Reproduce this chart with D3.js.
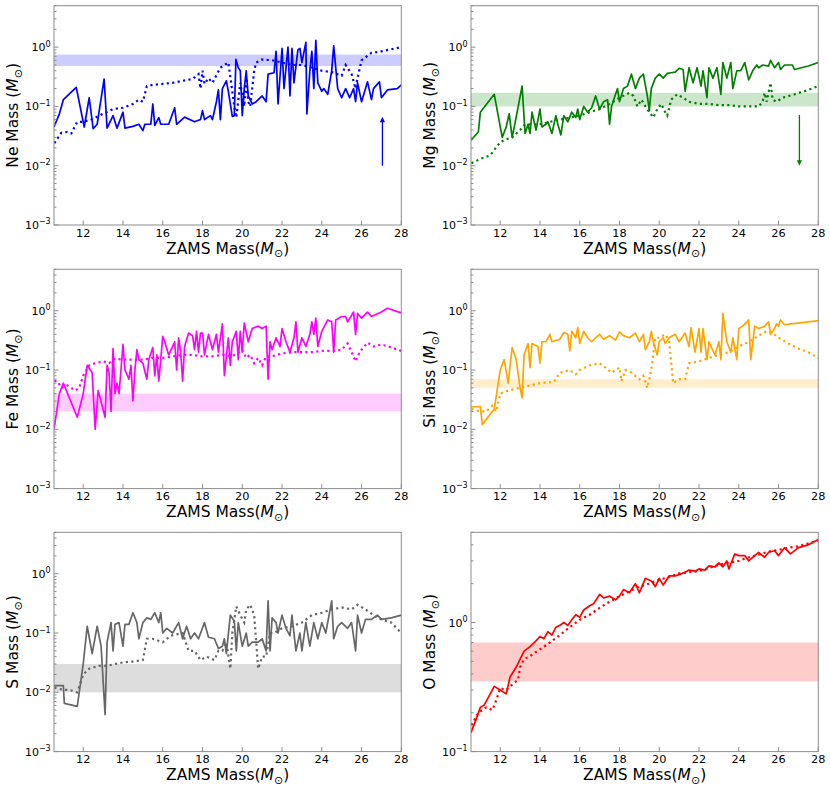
<!DOCTYPE html>
<html>
<head>
<meta charset="utf-8">
<script src="https://cdn.jsdelivr.net/npm/d3@7"></script>
<style>
  body { margin: 0; background: #fff; }
  svg { display: block; font-family: "DejaVu Sans", sans-serif; }
</style>
</head>
<body>
<script>
// element names, one panel each (row by row)
var elements = ["Ne", "Mg", "Fe", "Si", "S", "O"];
var lineColors = ["#0000ff", "#008000", "#ff00ff", "#ffa500", "#666666", "#ff0000"];

var xTicks = [12, 14, 16, 18, 20, 22, 24, 26, 28];

// observed ranges (shaded bands), low / high in Msun
var bandLow  = [0.48, 0.10, 0.020, 0.050, 0.010, 0.35];
var bandHigh = [0.75, 0.17, 0.040, 0.070, 0.030, 0.70];

// y ranges
var yMin = [1e-3, 1e-3, 1e-3, 1e-3, 1e-3, 0.1];
var yMax = [5, 5, 5, 5, 5, 5];

// [ZAMS mass, yield]
var neSolid = [[10.53,0.045],[10.8,0.075],[11.0,0.13],[11.65,0.21],[12.05,0.045],[12.3,0.14],[12.5,0.042],[12.7,0.05],[13.05,0.29],[13.2,0.043],[13.5,0.07],[13.7,0.043],[14.0,0.08],[14.1,0.043],[14.5,0.046],[14.8,0.05],[15.0,0.039],[15.1,0.05],[15.4,0.05],[15.5,0.11],[15.6,0.048],[15.8,0.065],[15.9,0.05],[16.3,0.05],[16.6,0.095],[16.7,0.05],[17.1,0.066],[17.6,0.055],[17.9,0.06],[18.0,0.085],[18.1,0.06],[18.4,0.07],[18.5,0.06],[18.7,0.12],[18.8,0.19],[18.9,0.06],[19.0,0.2],[19.2,0.27],[19.3,0.18],[19.5,0.068],[19.6,0.07],[19.68,0.62],[19.8,0.45],[19.9,0.4],[20.0,0.07],[20.1,0.2],[20.2,0.4],[20.3,0.15],[20.5,0.11],[20.7,0.12],[21.0,0.15],[21.2,0.12],[21.3,0.35],[21.6,0.37],[21.7,0.85],[21.8,0.11],[22.0,0.95],[22.1,0.2],[22.3,1.0],[22.4,0.15],[22.5,0.95],[22.6,0.25],[22.8,0.9],[22.9,0.95],[23.0,0.55],[23.2,1.2],[23.25,0.075],[23.4,0.4],[23.5,0.85],[23.6,0.2],[23.7,1.3],[23.8,0.25],[24.0,0.18],[24.1,0.2],[24.3,0.16],[24.5,0.4],[24.6,1.05],[24.8,0.2],[25.0,0.14],[25.2,0.2],[25.4,0.14],[25.6,0.2],[25.7,0.12],[25.8,0.25],[26.0,0.12],[26.2,0.2],[26.3,0.26],[26.5,0.13],[26.6,0.2],[26.9,0.26],[27.0,0.14],[27.3,0.19],[27.8,0.2],[28.0,0.23]];
var neDotted = [[10.55,0.024],[10.9,0.036],[11.2,0.037],[11.4,0.035],[11.7,0.055],[12.0,0.055],[12.4,0.06],[13.0,0.075],[13.5,0.09],[14.0,0.095],[14.5,0.11],[14.8,0.13],[15.0,0.12],[15.2,0.22],[15.5,0.23],[16.0,0.24],[16.5,0.25],[17.0,0.27],[17.5,0.29],[17.8,0.35],[17.9,0.2],[18.0,0.4],[18.1,0.24],[18.3,0.3],[18.5,0.25],[18.9,0.45],[19.3,0.55],[19.6,0.1],[19.7,0.065],[19.9,0.25],[20.1,0.1],[20.2,0.3],[20.3,0.12],[20.4,0.1],[20.6,0.4],[20.7,0.55],[21.0,0.62],[21.5,0.6],[22.0,0.55],[22.5,0.5],[23.0,0.5],[23.5,0.45],[24.0,0.4],[24.5,0.38],[25.0,0.33],[25.2,0.5],[25.5,0.35],[25.7,0.2],[25.8,0.3],[26.0,0.6],[26.5,0.8],[27.0,0.85],[27.5,0.92],[28.0,1.0]];

var mgSolid = [[10.53,0.027],[10.9,0.037],[11.0,0.08],[11.7,0.16],[12.1,0.03],[12.3,0.045],[12.45,0.075],[12.6,0.03],[12.8,0.065],[13.1,0.22],[13.25,0.035],[13.4,0.05],[13.5,0.035],[13.6,0.08],[13.8,0.04],[14.0,0.09],[14.1,0.045],[14.3,0.05],[14.4,0.055],[14.6,0.035],[14.8,0.07],[14.9,0.05],[15.05,0.033],[15.2,0.07],[15.4,0.055],[15.6,0.08],[15.8,0.065],[15.9,0.09],[16.0,0.06],[16.2,0.1],[16.4,0.08],[16.6,0.095],[16.8,0.15],[17.0,0.09],[17.2,0.12],[17.4,0.13],[17.5,0.05],[17.6,0.1],[17.8,0.16],[17.9,0.2],[18.0,0.12],[18.2,0.2],[18.4,0.22],[18.6,0.35],[18.8,0.2],[19.0,0.3],[19.2,0.35],[19.4,0.15],[19.5,0.085],[19.6,0.2],[19.8,0.3],[20.0,0.35],[20.2,0.3],[20.4,0.36],[20.6,0.37],[20.8,0.38],[21.0,0.44],[21.2,0.42],[21.3,0.18],[21.5,0.45],[21.7,0.25],[21.9,0.45],[22.1,0.22],[22.2,0.4],[22.4,0.14],[22.5,0.45],[22.7,0.3],[22.9,0.45],[23.1,0.16],[23.2,0.55],[23.4,0.3],[23.6,0.55],[23.7,0.2],[23.9,0.4],[24.1,0.4],[24.3,0.55],[24.5,0.28],[24.7,0.4],[24.9,0.5],[25.0,0.45],[25.2,0.5],[25.5,0.48],[25.6,0.6],[25.8,0.45],[26.0,0.55],[26.1,0.42],[26.3,0.5],[26.7,0.5],[26.8,0.42],[27.5,0.48],[28.0,0.55]];
var mgDotted = [[10.55,0.011],[11.0,0.013],[11.5,0.015],[12.0,0.025],[12.3,0.028],[12.6,0.03],[13.0,0.04],[13.2,0.048],[13.5,0.05],[14.0,0.05],[14.5,0.055],[15.0,0.06],[15.5,0.065],[16.0,0.07],[16.5,0.08],[17.0,0.09],[17.5,0.11],[18.0,0.14],[18.5,0.17],[18.7,0.15],[18.9,0.1],[19.1,0.13],[19.3,0.1],[19.5,0.08],[19.7,0.065],[19.9,0.09],[20.1,0.11],[20.3,0.08],[20.4,0.07],[20.6,0.13],[20.9,0.16],[21.2,0.14],[21.5,0.12],[22.0,0.11],[22.5,0.11],[23.0,0.105],[23.5,0.105],[24.0,0.1],[24.5,0.1],[25.0,0.1],[25.2,0.12],[25.3,0.17],[25.4,0.12],[25.6,0.25],[25.7,0.13],[25.9,0.12],[26.2,0.14],[26.8,0.16],[27.5,0.19],[28.0,0.22]];

var feSolid = [[10.53,0.01],[10.8,0.04],[11.0,0.06],[11.7,0.016],[12.0,0.04],[12.2,0.12],[12.45,0.09],[12.6,0.01],[12.75,0.045],[13.1,0.016],[13.2,0.12],[13.3,0.09],[13.4,0.02],[13.5,0.23],[13.6,0.04],[13.7,0.06],[13.8,0.04],[13.9,0.1],[14.0,0.27],[14.1,0.1],[14.3,0.07],[14.4,0.12],[14.5,0.03],[14.6,0.1],[14.7,0.22],[14.8,0.15],[15.0,0.13],[15.2,0.07],[15.3,0.15],[15.5,0.24],[15.6,0.08],[15.7,0.18],[15.8,0.065],[15.9,0.15],[16.0,0.37],[16.1,0.3],[16.3,0.18],[16.5,0.25],[16.6,0.3],[16.7,0.1],[16.8,0.35],[16.9,0.2],[17.0,0.065],[17.1,0.25],[17.3,0.42],[17.5,0.38],[17.6,0.22],[17.7,0.45],[17.8,0.2],[17.9,0.42],[18.0,0.42],[18.1,0.18],[18.3,0.4],[18.5,0.22],[18.7,0.4],[18.8,0.2],[19.0,0.6],[19.1,0.08],[19.3,0.35],[19.4,0.12],[19.5,0.3],[19.7,0.45],[19.8,0.15],[19.9,0.45],[20.0,0.2],[20.1,0.62],[20.3,0.3],[20.5,0.5],[20.8,0.55],[21.0,0.5],[21.2,0.55],[21.3,0.07],[21.4,0.3],[21.5,0.22],[21.7,0.35],[21.9,0.25],[22.0,0.5],[22.2,0.3],[22.4,0.2],[22.6,0.35],[22.7,0.65],[22.8,0.2],[23.0,0.35],[23.2,0.25],[23.4,0.4],[23.5,0.65],[23.6,0.4],[23.7,0.75],[23.8,0.25],[24.0,0.45],[24.3,0.7],[24.5,0.65],[24.6,0.2],[24.7,0.7],[25.0,0.8],[25.2,0.8],[25.3,0.65],[25.6,0.95],[25.7,0.4],[25.8,0.9],[26.0,0.75],[26.3,0.95],[26.5,0.8],[27.0,0.95],[27.3,1.1],[28.0,0.92]];
var feDotted = [[10.55,0.065],[10.7,0.065],[10.9,0.05],[11.2,0.055],[11.6,0.045],[11.8,0.05],[12.0,0.08],[12.3,0.12],[12.6,0.13],[13.0,0.14],[13.3,0.13],[13.6,0.155],[14.0,0.15],[14.5,0.15],[15.0,0.15],[15.5,0.16],[16.0,0.16],[16.5,0.17],[17.0,0.18],[17.5,0.18],[18.0,0.17],[18.5,0.17],[19.0,0.18],[19.5,0.17],[20.0,0.22],[20.2,0.16],[20.4,0.18],[20.6,0.13],[20.8,0.16],[21.0,0.12],[21.2,0.17],[21.5,0.17],[22.0,0.19],[22.5,0.2],[23.0,0.2],[23.5,0.2],[24.0,0.21],[24.5,0.21],[25.0,0.22],[25.3,0.28],[25.5,0.2],[25.7,0.14],[25.9,0.2],[26.3,0.29],[26.6,0.25],[27.0,0.27],[27.5,0.24],[28.0,0.21]];

var siSolid = [[10.53,0.024],[11.0,0.024],[11.1,0.012],[11.7,0.022],[12.0,0.1],[12.2,0.15],[12.4,0.06],[12.6,0.24],[12.8,0.15],[13.0,0.05],[13.1,0.034],[13.2,0.18],[13.4,0.28],[13.5,0.11],[13.6,0.28],[13.9,0.25],[14.0,0.13],[14.1,0.3],[14.3,0.3],[14.5,0.4],[14.6,0.3],[15.0,0.33],[15.2,0.43],[15.4,0.4],[15.5,0.21],[15.6,0.45],[15.8,0.35],[15.9,0.52],[16.0,0.28],[16.2,0.45],[16.4,0.35],[16.6,0.3],[16.8,0.35],[17.0,0.4],[17.2,0.33],[17.5,0.38],[17.8,0.32],[18.0,0.44],[18.2,0.38],[18.5,0.35],[18.8,0.42],[19.0,0.3],[19.2,0.4],[19.3,0.22],[19.5,0.3],[19.6,0.45],[19.7,0.3],[19.9,0.18],[20.0,0.3],[20.2,0.35],[20.3,0.28],[20.5,0.35],[20.8,0.4],[21.0,0.3],[21.3,0.42],[21.5,0.25],[21.6,0.52],[21.8,0.2],[22.0,0.5],[22.1,0.2],[22.2,0.5],[22.4,0.15],[22.5,0.3],[22.8,0.18],[23.0,0.3],[23.1,0.15],[23.2,0.9],[23.4,0.3],[23.6,0.2],[23.7,0.35],[23.9,0.15],[24.0,0.5],[24.2,0.55],[24.5,0.7],[24.6,0.15],[24.8,0.55],[25.0,0.5],[25.3,0.55],[25.5,0.65],[25.6,0.4],[25.8,0.5],[25.9,0.6],[26.0,0.55],[26.1,0.7],[26.3,0.58],[26.6,0.6],[27.0,0.62],[27.5,0.65],[28.0,0.68]];
var siDotted = [[10.55,0.022],[11.0,0.02],[11.3,0.02],[11.6,0.025],[11.8,0.02],[12.0,0.04],[12.4,0.045],[13.0,0.05],[13.5,0.055],[14.0,0.06],[14.7,0.063],[15.0,0.09],[15.5,0.1],[15.8,0.085],[16.0,0.1],[16.5,0.12],[17.0,0.13],[17.3,0.11],[17.6,0.09],[18.0,0.11],[18.1,0.065],[18.3,0.1],[18.6,0.09],[19.0,0.07],[19.2,0.08],[19.4,0.05],[19.6,0.1],[19.8,0.35],[20.0,0.35],[20.3,0.4],[20.5,0.3],[20.7,0.06],[21.0,0.07],[21.3,0.07],[21.5,0.13],[22.0,0.14],[22.5,0.16],[23.0,0.18],[23.5,0.2],[24.0,0.25],[24.5,0.3],[25.0,0.38],[25.4,0.45],[25.7,0.42],[26.0,0.35],[26.5,0.28],[27.0,0.23],[27.5,0.2],[28.0,0.16]];

var sSolid = [[10.53,0.013],[11.0,0.013],[11.05,0.0065],[11.7,0.0058],[12.0,0.03],[12.2,0.13],[12.45,0.045],[12.7,0.13],[12.9,0.06],[13.1,0.0042],[13.2,0.07],[13.4,0.15],[13.5,0.05],[13.6,0.14],[13.8,0.15],[14.0,0.06],[14.1,0.14],[14.3,0.14],[14.5,0.22],[14.7,0.15],[14.8,0.08],[15.0,0.15],[15.2,0.18],[15.4,0.17],[15.6,0.22],[15.8,0.15],[15.9,0.22],[16.0,0.1],[16.2,0.12],[16.5,0.1],[16.8,0.15],[17.0,0.08],[17.2,0.13],[17.4,0.08],[17.6,0.1],[17.8,0.08],[18.1,0.15],[18.3,0.085],[18.6,0.08],[18.8,0.055],[19.0,0.06],[19.1,0.08],[19.2,0.045],[19.4,0.2],[19.6,0.16],[19.7,0.05],[19.8,0.15],[20.0,0.06],[20.2,0.1],[20.3,0.06],[20.5,0.07],[20.8,0.07],[21.0,0.08],[21.2,0.05],[21.3,0.35],[21.4,0.05],[21.5,0.18],[21.7,0.15],[21.8,0.1],[22.0,0.2],[22.2,0.12],[22.4,0.09],[22.5,0.2],[22.7,0.05],[22.9,0.1],[23.0,0.05],[23.2,0.15],[23.4,0.06],[23.6,0.15],[23.8,0.08],[24.0,0.15],[24.2,0.1],[24.5,0.35],[24.6,0.08],[24.8,0.13],[25.0,0.15],[25.3,0.12],[25.5,0.15],[25.7,0.05],[25.8,0.2],[26.0,0.1],[26.2,0.17],[26.5,0.17],[26.8,0.2],[27.0,0.17],[27.5,0.18],[28.0,0.2]];
var sDotted = [[10.55,0.012],[11.0,0.011],[11.3,0.011],[11.7,0.01],[12.0,0.02],[12.3,0.025],[12.8,0.028],[13.2,0.028],[13.6,0.03],[14.0,0.032],[14.5,0.033],[15.0,0.035],[15.2,0.08],[15.5,0.08],[16.0,0.07],[16.4,0.09],[17.0,0.1],[17.3,0.05],[17.6,0.05],[17.9,0.035],[18.2,0.04],[18.6,0.035],[18.8,0.05],[19.0,0.05],[19.2,0.07],[19.4,0.025],[19.5,0.1],[19.7,0.28],[19.9,0.2],[20.1,0.15],[20.2,0.25],[20.4,0.3],[20.6,0.2],[20.8,0.025],[21.0,0.04],[21.2,0.04],[21.4,0.1],[21.6,0.1],[22.0,0.12],[22.5,0.13],[23.0,0.15],[23.5,0.2],[24.0,0.22],[24.5,0.25],[25.0,0.27],[25.5,0.25],[25.8,0.3],[26.2,0.25],[26.8,0.18],[27.5,0.15],[28.0,0.1]];

var oSolid = [[10.53,0.14],[10.8,0.18],[11.0,0.22],[11.2,0.23],[11.7,0.32],[12.0,0.3],[12.3,0.28],[12.5,0.38],[12.8,0.45],[13.0,0.52],[13.2,0.6],[13.5,0.65],[13.8,0.72],[14.0,0.78],[14.2,0.75],[14.4,0.85],[14.6,0.8],[14.8,0.92],[15.0,0.95],[15.2,1.0],[15.4,0.95],[15.6,1.05],[15.8,1.15],[16.0,1.1],[16.2,1.25],[16.5,1.35],[16.7,1.4],[17.0,1.65],[17.2,1.55],[17.5,1.6],[17.8,1.5],[18.0,1.6],[18.2,1.8],[18.5,1.7],[18.8,2.0],[19.0,1.7],[19.3,2.2],[19.6,2.1],[19.8,1.9],[20.0,2.2],[20.2,1.95],[20.5,2.3],[20.8,2.3],[21.0,2.35],[21.3,2.45],[21.5,2.55],[21.8,2.5],[22.0,2.6],[22.3,2.55],[22.5,2.75],[22.8,2.7],[23.0,2.9],[23.2,2.7],[23.4,3.0],[23.5,2.6],[23.8,3.4],[24.0,3.3],[24.3,3.3],[24.5,3.0],[24.8,3.3],[25.0,3.5],[25.3,3.2],[25.5,3.5],[25.8,3.6],[26.0,3.3],[26.3,3.8],[26.6,3.4],[27.0,3.8],[27.5,4.0],[28.0,4.4]];
var oDotted = [[10.55,0.16],[10.9,0.2],[11.3,0.22],[11.6,0.21],[11.8,0.25],[12.0,0.31],[12.3,0.3],[12.6,0.33],[12.9,0.36],[13.0,0.45],[13.2,0.52],[13.5,0.55],[14.0,0.62],[14.5,0.7],[15.0,0.8],[15.5,0.92],[16.0,1.05],[16.5,1.15],[17.0,1.3],[17.5,1.45],[18.0,1.6],[18.5,1.75],[19.0,1.9],[19.5,2.0],[20.0,2.15],[20.5,2.25],[21.0,2.4],[21.5,2.45],[22.0,2.5],[22.5,2.65],[23.0,2.8],[23.5,2.9],[24.0,3.0],[24.5,3.2],[25.0,3.35],[25.5,3.55],[26.0,3.65],[26.5,3.8],[27.0,3.9],[27.5,4.1],[28.0,4.3]];

var solidSeries  = [neSolid, mgSolid, feSolid, siSolid, sSolid, oSolid];
var dottedSeries = [neDotted, mgDotted, feDotted, siDotted, sDotted, oDotted];

// arrows in the first two panels: [x, from, to]
var arrows = [[27.05, 0.01, 0.067], [27.05, 0.072, 0.01], null, null, null, null];

// layout
var width = 830, height = 787;
var colLeft = [54, 471], rowTop = [5.7, 269.3, 532.3];
var pw = 347.3, ph = 219.3;
var axisColor = "#8c8c8c";
var supers = {"-3": "\u22123", "-2": "\u22122", "-1": "\u22121", "0": "0"};

var svg = d3.select("body").append("svg")
    .attr("width", width)
    .attr("height", height);

var defs = svg.append("defs");
defs.append("clipPath").attr("id", "plotclip")
  .append("rect").attr("width", pw).attr("height", ph);

elements.forEach(function(el, i) {
  var g = svg.append("g")
      .attr("transform", "translate(" + colLeft[i % 2] + "," + rowTop[Math.floor(i / 2)] + ")");

  var x = d3.scaleLinear().domain([10.53, 28]).range([0, pw]);
  var y = d3.scaleLog().domain([yMin[i], yMax[i]]).range([ph, 0]);
  var col = lineColors[i];

  // shaded band
  g.append("rect")
    .attr("x", 0).attr("width", pw)
    .attr("y", y(bandHigh[i]))
    .attr("height", y(bandLow[i]) - y(bandHigh[i]))
    .attr("fill", col)
    .attr("fill-opacity", el == "S" ? 0.22 : 0.2);

  var line = d3.line()
    .x(function(d) { return x(d[0]); })
    .y(function(d) { return y(d[1]); });

  var plot = g.append("g").attr("clip-path", "url(#plotclip)");

  plot.append("path")
    .datum(dottedSeries[i])
    .attr("d", line)
    .attr("fill", "none")
    .attr("stroke", col)
    .attr("stroke-width", 2.2)
    .attr("stroke-dasharray", "2.2,3.3");

  plot.append("path")
    .datum(solidSeries[i])
    .attr("d", line)
    .attr("fill", "none")
    .attr("stroke", col)
    .attr("stroke-width", 1.7)
    .attr("stroke-linejoin", "round");

  // arrow
  if (arrows[i]) {
    var a = arrows[i];
    var ax = x(a[0]), y0 = y(a[1]), y1 = y(a[2]);
    var dir = y1 < y0 ? 1 : -1; // head points up when dir = 1
    g.append("line")
      .attr("x1", ax).attr("x2", ax)
      .attr("y1", y0).attr("y2", y1 + dir * 4)
      .attr("stroke", col).attr("stroke-width", 1.3);
    g.append("path")
      .attr("d", "M" + ax + "," + y1 + "L" + (ax - 2.6) + "," + (y1 + dir * 5.5) +
                 "L" + (ax + 2.6) + "," + (y1 + dir * 5.5) + "Z")
      .attr("fill", col);
  }

  // frame
  g.append("rect")
    .attr("width", pw).attr("height", ph)
    .attr("fill", "none")
    .attr("stroke", axisColor)
    .attr("stroke-width", 1);

  // x ticks (inward)
  var xt = g.append("g").attr("class", "xticks");
  xTicks.forEach(function(t) {
    xt.append("line")
      .attr("x1", x(t)).attr("x2", x(t))
      .attr("y1", ph).attr("y2", ph - 4.5)
      .attr("stroke", axisColor);
    xt.append("text")
      .attr("x", x(t)).attr("y", ph + 11.8)
      .attr("text-anchor", "middle")
      .attr("font-size", 11.3)
      .attr("fill", "#000")
      .text(t);
  });

  // y ticks: majors with 10^n labels, minors at 2..9
  var lo = Math.round(Math.log10(yMin[i]));
  var hiV = yMax[i];
  for (var p = lo; p <= 0; p++) {
    var v = Math.pow(10, p);
    g.append("line")
      .attr("x1", 0).attr("x2", 4.5)
      .attr("y1", y(v)).attr("y2", y(v))
      .attr("stroke", axisColor);
    var tx = g.append("text")
      .attr("x", -3.3).attr("y", y(v) + 4)
      .attr("text-anchor", "end")
      .attr("font-size", 11)
      .attr("fill", "#000");
    tx.append("tspan").text("10");
    tx.append("tspan")
      .attr("dy", -4.5)
      .attr("font-size", 8)
      .text(supers[String(p)]);
    for (var m = 2; m <= 9; m++) {
      var mv = m * v;
      if (mv > hiV) break;
      g.append("line")
        .attr("x1", 0).attr("x2", 2.5)
        .attr("y1", y(mv)).attr("y2", y(mv))
        .attr("stroke", axisColor);
    }
  }

  // axis labels
  var xl = g.append("text")
    .attr("x", pw / 2).attr("y", ph + 28.7)
    .attr("text-anchor", "middle")
    .attr("font-size", 15.5)
    .attr("fill", "#000");
  xl.append("tspan").text("ZAMS Mass(");
  xl.append("tspan").attr("font-style", "italic").text("M");
  xl.append("tspan").attr("font-size", 11).attr("dy", 3.5).text("\u2299");
  xl.append("tspan").attr("dy", -3.5).text(")");

  var yl = g.append("text")
    .attr("transform", "translate(-36," + (ph / 2) + ") rotate(-90)")
    .attr("text-anchor", "middle")
    .attr("font-size", 15.5)
    .attr("fill", "#000");
  yl.append("tspan").text(el + " Mass (");
  yl.append("tspan").attr("font-style", "italic").text("M");
  yl.append("tspan").attr("font-size", 11).attr("dy", 3.5).text("\u2299");
  yl.append("tspan").attr("dy", -3.5).text(")");
});
</script>
</body>
</html>
